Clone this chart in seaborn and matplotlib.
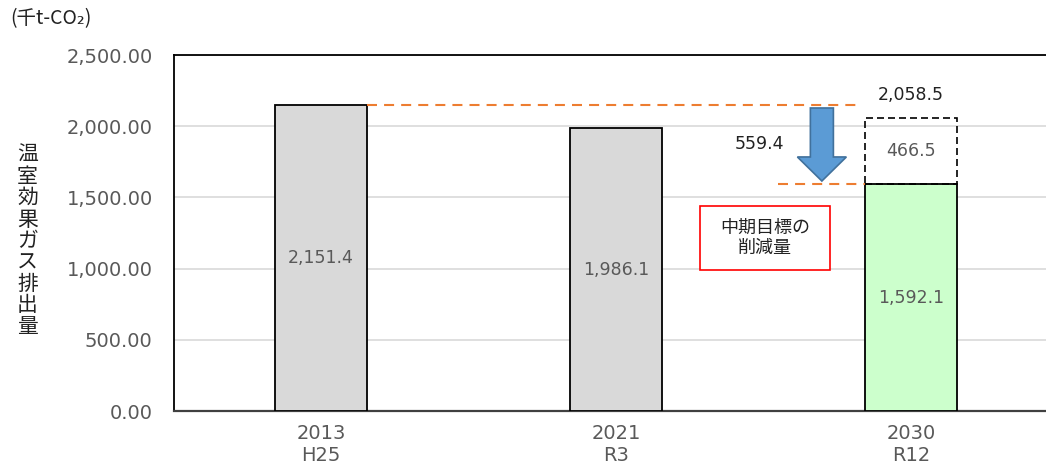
import matplotlib
matplotlib.use("Agg")
import matplotlib.pyplot as plt
from matplotlib.patches import FancyArrow, Rectangle
from matplotlib.ticker import FuncFormatter
import seaborn as sns
import pandas as pd

# Emissions (thousand t-CO2)
years = ["2013\nH25", "2021\nR3", "2030\nR12"]
emissions = [2151.4, 1986.1, 1592.1]
bar_labels = ["2,151.4", "1,986.1", "1,592.1"]
bar_colors = ["#D9D9D9", "#D9D9D9", "#CCFFCC"]
gap_2030 = 466.5          # remaining reduction above the 2030 target
bau_2030 = 2058.5         # 2030 level without further measures
reduction = 559.4         # mid-term reduction target
y_ticks = [0, 500, 1000, 1500, 2000, 2500]

JP = ["Noto Sans CJK JP", "DejaVu Sans"]
NUM = ["DejaVu Sans"]
GRAY_TXT = "#595959"

df = pd.DataFrame({"year": years, "value": emissions})

fig = plt.figure(figsize=(10.46, 4.63), dpi=100)
ax = fig.add_axes([0.1659, 0.1123, 0.846, 0.7689])

bw = 0.315
sns.barplot(data=df, x="year", y="value", hue="year", palette=bar_colors,
            width=bw, edgecolor="black", linewidth=1.3, legend=False,
            saturation=1, ax=ax, zorder=3)

for cont, lab in zip(ax.containers, bar_labels):
    ax.bar_label(cont, labels=[lab], label_type="center", color=GRAY_TXT,
                 fontsize=12.5, family=NUM)

# dashed box: 2030 level without the mid-term reduction
ax.bar(2, gap_2030, bottom=emissions[2], width=bw, fill=False,
       edgecolor="black", linewidth=1.2, linestyle=(0, (4.2, 2.4)), zorder=3)
ax.text(2, emissions[2] + gap_2030 / 2, "466.5", ha="center", va="center",
        color=GRAY_TXT, fontsize=12.5, family=NUM)
ax.annotate("2,058.5", xy=(2, bau_2030), xytext=(0, 16.5),
            textcoords="offset points", ha="center", va="center",
            color="#222222", fontsize=12.5, family=NUM)

# orange guides from the base year level down to the target level
orange = "#ED7D31"
ax.plot([bw / 2, 1.827], [emissions[0]] * 2, color=orange, lw=1.5,
        linestyle=(0, (4.8, 3.4)), zorder=4)
ax.plot([1.55, 2 - bw / 2], [emissions[2]] * 2, color=orange, lw=1.5,
        linestyle=(0, (4.8, 3.4)), zorder=4)

# reduction arrow
arr_x = 1.698
arr_top, arr_tip = 2128, 1615
ax.add_patch(FancyArrow(arr_x, arr_top, 0, arr_tip - arr_top, width=0.078,
                        head_width=0.166, head_length=169,
                        length_includes_head=True, fc="#5B9BD5",
                        ec="#41719C", lw=1.2, zorder=5))
ax.text(1.488, (emissions[0] + emissions[2]) / 2, "559.4", ha="center",
        va="center", color="#222222", fontsize=12.5, family=NUM)

# note box
ax.add_patch(Rectangle((1.285, 990), 0.44, 450, fill=True, fc="white",
                       ec="#FF0000", lw=1.2, zorder=5))
ax.text(1.505, 1215, "中期目標の\n削減量", ha="center", va="center",
        fontsize=13, family=JP, color="#222222", linespacing=1.2, zorder=6)

ax.set_xlim(-0.5, 2.5)
ax.set_ylim(0, 2500)
ax.set_yticks(y_ticks)
ax.yaxis.set_major_formatter(FuncFormatter(lambda v, p: f"{v:,.2f}"))
ax.yaxis.grid(True, color="#D9D9D9", lw=1.2, zorder=0)
ax.xaxis.grid(False)
ax.set_axisbelow(True)
ax.set_xlabel("")
ax.set_ylabel("")
ax.tick_params(axis="y", length=0, pad=15, labelsize=14, labelcolor=GRAY_TXT)
ax.tick_params(axis="x", length=0, pad=9, labelsize=14, labelcolor=GRAY_TXT)
for t in ax.get_xticklabels() + ax.get_yticklabels():
    t.set_family(NUM)

for s in ["left", "top"]:
    ax.spines[s].set_color("black")
    ax.spines[s].set_linewidth(1.3)
ax.spines["bottom"].set_color("#404040")
ax.spines["bottom"].set_linewidth(1.6)
ax.spines["right"].set_visible(False)

# axis title written vertically, one character per line
fig.text(27.5 / 1046, 1 - 241 / 463, "\n".join("温室効果ガス排出量"),
         ha="center", va="center", fontsize=15, family=JP, color="#222222",
         linespacing=0.97)
fig.text(10 / 1046, 1 - 19 / 463, "(千t-CO₂)", ha="left", va="center",
         fontsize=14, family=JP, color="#222222")

fig.savefig("out.png", dpi=100)
